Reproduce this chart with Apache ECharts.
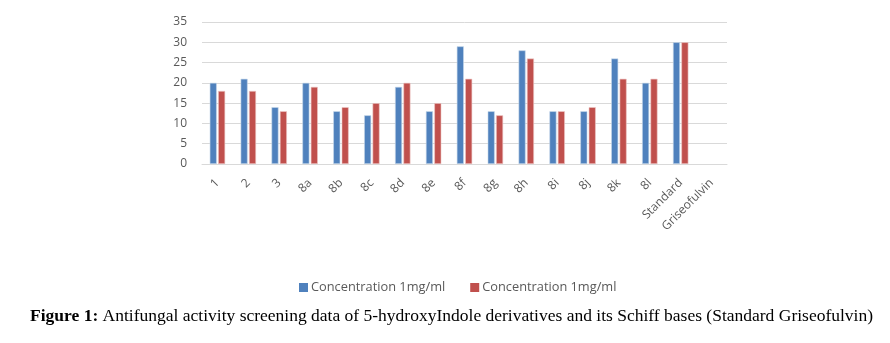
<!DOCTYPE html>
<html>
<head>
<meta charset="utf-8">
<script src="https://cdn.jsdelivr.net/npm/echarts@6/dist/echarts.min.js"></script>
<style>
html,body{margin:0;padding:0;background:#fff;}
#chart{width:890px;height:343px;}
</style>
</head>
<body>
<div id="chart"></div>
<script>
const categories = ['1','2','3','8a','8b','8c','8d','8e','8f','8g','8h','8i','8j','8k','8l','Standard','Griseofulvin'];
const seriesA = [20,21,14,20,13,12,19,13,29,13,28,13,13,26,20,30,null];
const seriesB = [18,18,13,19,14,15,20,15,21,12,26,13,14,21,21,30,null];
const seriesNames = ['Concentration 1mg/ml','Concentration 1mg/ml '];
const yTicks = {min:0, max:35, interval:5};
const captionBold = 'Figure 1:';
const captionText = ' Antifungal activity screening data of 5-hydroxyIndole derivatives and its Schiff bases (Standard Griseofulvin)';

const chart = echarts.init(document.getElementById('chart'));
const labelFont = 'Open Sans';
chart.setOption({
  animation:false,
  backgroundColor:'#fff',
  title:{
    text:'{b|'+captionBold+'}{n|'+captionText+'}',
    left:25, top:302,
    textStyle:{
      fontWeight:'normal',
      rich:{
        b:{fontFamily:'Liberation Serif',fontWeight:'bold',fontSize:17.5,color:'#000'},
        n:{fontFamily:'Liberation Serif',fontWeight:'normal',fontSize:17.5,color:'#000'}
      }
    }
  },
  legend:{
    top:276, left:294,
    itemWidth:9, itemHeight:9, itemGap:25,
    icon:'rect',
    itemStyle:{borderWidth:0},
    textStyle:{fontFamily:labelFont,fontSize:12.8,color:'#595959',padding:[0,0,0,-2]},
    data:seriesNames
  },
  grid:{left:202, right:163, top:22, height:142, containLabel:false},
  xAxis:{
    type:'category', data:categories,
    axisLine:{lineStyle:{color:'#d9d9d9'}},
    axisTick:{show:false},
    axisLabel:{rotate:45, interval:0, fontFamily:labelFont, fontSize:12, color:'#595959', margin:17}
  },
  yAxis:{
    type:'value', min:yTicks.min, max:yTicks.max, interval:yTicks.interval,
    axisLine:{show:false}, axisTick:{show:false},
    splitLine:{lineStyle:{color:'#d9d9d9'}},
    axisLabel:{fontFamily:labelFont, fontSize:12, color:'#595959', margin:15}
  },
  series:[
    {name:seriesNames[0], type:'bar', data:seriesA, barWidth:7, barGap:'20%',
     itemStyle:{color:'#4F81BD', borderColor:'#c6d6ea', borderWidth:0.6}},
    {name:seriesNames[1], type:'bar', data:seriesB, barWidth:7,
     itemStyle:{color:'#C0504D', borderColor:'#ecc6c5', borderWidth:0.6}}
  ]
});
</script>
</body>
</html>
